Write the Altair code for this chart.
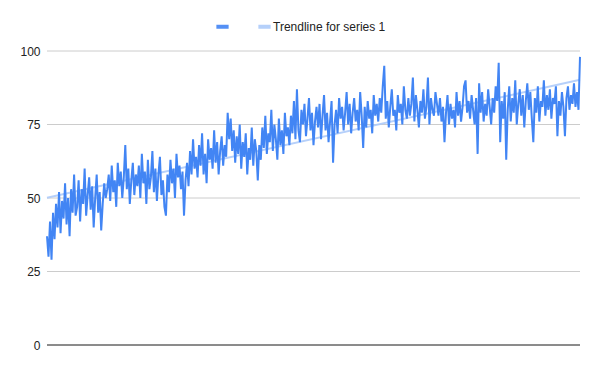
import altair as alt
import pandas as pd

values = [
    # x ~47-77
    37, 30, 42, 29, 45, 36, 48, 40, 52, 38, 49, 43, 55, 41, 50, 37, 53, 45, 58, 44,
    # ~77-107
    47, 56, 42, 53, 48, 60, 44, 51, 57, 46, 54, 40, 50, 58, 45, 52, 39, 48, 55, 50,
    # ~107-137
    53, 58, 49, 61, 52, 56, 47, 62, 54, 59, 50, 57, 68, 53, 60, 48, 56, 62, 51, 58,
    # ~137-167
    54, 61, 50, 65, 55, 59, 48, 63, 53, 57, 66, 52, 60, 49, 58, 64, 51, 56, 47, 44,
    # ~167-197
    58, 52, 63, 55, 60, 50, 65, 57, 61, 53, 59, 44, 56, 62, 54, 66, 58, 70, 60, 64,
    # ~197-227
    57, 68, 61, 72, 58, 65, 55, 70, 63, 67, 60, 73, 62, 69, 58, 66, 71, 61, 68, 64,
    # ~227-257
    79, 70, 77, 66, 73, 62, 71, 65, 75, 60, 69, 64, 72, 58, 67, 63, 74, 61, 70, 66,
    # ~257-287
    56, 68, 63, 74, 67, 78, 65, 72, 69, 80, 66, 75, 70, 63, 77, 68, 73, 65, 79, 71,
    # ~287-317
    74, 68, 78, 72, 83, 70, 87, 73, 69, 80, 75, 82, 71, 77, 84, 73, 79, 68, 76, 81,
    # ~317-347
    74, 82, 70, 78, 85, 73, 79, 69, 76, 83, 62, 75, 80, 72, 84, 77, 81, 73, 79, 86,
    # ~347-377
    75, 82, 72, 79, 84, 76, 80, 73, 86, 78, 67, 81, 74, 83, 77, 80, 72, 85, 78, 82,
    # ~377-407
    76, 84, 79, 88, 95, 77, 83, 74, 81, 87, 78, 80, 73, 85, 79, 82, 75, 88, 80, 77,
    # ~407-437
    84, 78, 82, 91, 76, 85, 80, 74, 83, 79, 87, 77, 81, 91, 75, 84, 80, 78, 86, 82,
    # ~437-467
    78, 84, 76, 81, 69, 79, 85, 75, 82, 77, 80, 74, 86, 78, 83, 76, 81, 88, 90, 79,
    # ~467-497
    83, 77, 85, 80, 75, 84, 65, 89, 79, 86, 76, 82, 78, 87, 81, 75, 84, 79, 88, 83,
    # ~497-527
    96, 69, 83, 77, 86, 63, 80, 88, 76, 84, 79, 90, 75, 82, 87, 78, 85, 74, 83, 89,
    # ~527-557
    80, 86, 77, 69, 84, 79, 88, 76, 83, 81, 90, 78, 85, 80, 87, 77, 84, 82, 88, 71,
    # ~557-580
    83, 78, 86, 81, 71, 84, 88, 80, 85, 82, 89, 81, 86, 80, 98,
]
series_names = ["series", "Trendline for series 1"]
y_ticks = [0, 25, 50, 75, 100]
FONT = "Liberation Sans"

df = pd.DataFrame({"x": list(range(len(values))), "y": values, "s": series_names[0]})

xscale = alt.Scale(domain=[0, len(values) - 1], nice=False, zero=False)
yscale = alt.Scale(domain=[0, 100], nice=False)
color = alt.Color(
    "s:N",
    scale=alt.Scale(domain=series_names, range=["#4285f4", "#aecbfa"]),
    legend=alt.Legend(
        title=None, orient="none", legendX=167, legendY=-33, direction="horizontal",
        symbolType="stroke", symbolStrokeWidth=4, symbolSize=150,
        labelExpr="datum.label == 'series' ? '' : datum.label",
        labelFont=FONT, labelFontSize=12, labelColor="#222222",
        columnPadding=13, labelOffset=0,
    ),
)

base = alt.Chart(df)

grid = alt.Chart(pd.DataFrame({"t": y_ticks})).mark_rule(color="#cccccc", strokeWidth=1).encode(
    y=alt.Y("t:Q", scale=yscale,
            axis=alt.Axis(values=y_ticks, title=None, grid=False, ticks=False, domain=False,
                          labelFont=FONT, labelFontSize=12, labelColor="#222222", labelPadding=7)),
)

trend = base.transform_regression("x", "y", method="linear").transform_calculate(
    s="'Trendline for series 1'"
).mark_line(strokeWidth=2, opacity=0.9).encode(
    x=alt.X("x:Q", scale=xscale, axis=None),
    y=alt.Y("y:Q", scale=yscale),
    color=color,
)

line = base.mark_line(strokeWidth=2).encode(
    x=alt.X("x:Q", scale=xscale, axis=None),
    y=alt.Y("y:Q", scale=yscale),
    color=color,
)

baseline = alt.Chart(pd.DataFrame({"t": [0]})).mark_rule(color="#333333", strokeWidth=1).encode(
    y=alt.Y("t:Q", scale=yscale)
)

chart = alt.layer(grid, trend, line, baseline).properties(
    width=533, height=294,
    autosize=alt.AutoSizeParams(type="none"),
    padding={"left": 47, "top": 51, "right": 20, "bottom": 26},
    background="white",
).configure_view(stroke=None)

chart.save("out.html", embed_options={"renderer": "svg", "actions": False})
